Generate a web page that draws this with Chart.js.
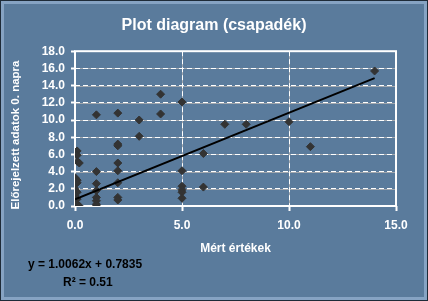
<!DOCTYPE html>
<html>
<head>
<meta charset="utf-8">
<script src="https://cdn.jsdelivr.net/npm/chart.js@4.4.1/dist/chart.umd.min.js"></script>
<style>
  html, body { margin: 0; padding: 0; background: #5A7B9C; }
  #wrap { position: relative; width: 428px; height: 301px; }
  canvas { display: block; }
</style>
</head>
<body>
<div id="wrap"><canvas id="c" width="428" height="301"></canvas></div>
<script>
// ---- data ----
const chartTitle = "Plot diagram (csapadék)";
const xTitle = "Mért értékek";
const yTitle = "Előrejelzett adatok 0. napra";
const measured = [
  0.1, 0.1, 0.1, 0.2, 0, 0.1, 0.1, 0, 0.1, 0, 0.1, 0, 0.1, 0, 0.1, 0.2,
  1, 1, 1, 1, 1, 1, 1, 1,
  2, 2, 2, 2, 2, 2, 2, 2,
  3, 3,
  4, 4,
  5, 5, 5, 5, 5, 5,
  6, 6,
  7, 8, 10, 11, 14
];
const forecast = [
  6.4, 5.9, 5.2, 5.0, 3.3, 3.0, 2.7, 2.0, 1.6, 1.2, 0.8, 0.4, 0.2, 0, 0, 0,
  10.6, 4.0, 2.6, 1.8, 1.0, 0.6, 0.2, 0,
  10.8, 7.2, 7.0, 5.0, 4.1, 2.7, 1.0, 0.7,
  10.0, 8.1,
  13.0, 10.7,
  12.1, 4.1, 2.3, 1.9, 1.6, 0.9,
  6.1, 2.2,
  9.5, 9.5, 9.8, 6.9, 15.7
];
const trendSlope = 1.0062;
const trendIntercept = 0.7835;
const trendRange = [0, 14];
const equationText = "y = 1.0062x + 0.7835";
const r2Text = "R² = 0.51";
const xTicks = [0, 5, 10, 15];
const yTicks = [0, 2, 4, 6, 8, 10, 12, 14, 16, 18];

const points = measured.map((x, i) => ({ x: x, y: forecast[i] }));
const trend = trendRange.map(x => ({ x: x, y: trendSlope * x + trendIntercept }));

const FONT = "'Liberation Sans', Arial, sans-serif";

const framePlugin = {
  id: 'frame',
  beforeDraw(chart) {
    const { ctx, chartArea: a, scales } = chart;
    const W = chart.width, H = chart.height;
    ctx.save();
    ctx.fillStyle = '#5A7B9C';
    ctx.fillRect(0, 0, W, H);
    ctx.strokeStyle = '#86A3C3';
    ctx.lineWidth = 3;
    ctx.strokeRect(2.5, 2.5, W - 5, H - 5);
    ctx.strokeStyle = '#1E2B38';
    ctx.lineWidth = 1;
    ctx.strokeRect(0.5, 0.5, W - 1, H - 1);
    // gray underlay beneath the dashed gridlines
    ctx.strokeStyle = '#A3A8AE';
    ctx.lineWidth = 1;
    yTicks.forEach(v => {
      const y = Math.round(scales.y.getPixelForValue(v)) + 0.5;
      ctx.beginPath(); ctx.moveTo(a.left, y); ctx.lineTo(a.right, y); ctx.stroke();
    });
    xTicks.forEach(v => {
      const x = Math.round(scales.x.getPixelForValue(v)) + 0.5;
      ctx.beginPath(); ctx.moveTo(x, a.top); ctx.lineTo(x, a.bottom); ctx.stroke();
    });
    ctx.restore();
  },
  beforeDatasetsDraw(chart) {
    const { ctx, chartArea: a } = chart;
    ctx.save();
    ctx.strokeStyle = '#FFFFFF';
    ctx.lineWidth = 2;
    ctx.strokeRect(a.left, a.top, a.right - a.left, a.bottom - a.top);
    ctx.restore();
  },
  afterDraw(chart) {
    const { ctx } = chart;
    ctx.save();
    ctx.fillStyle = '#FFFFFF';
    ctx.font = "bold 11.5px " + FONT;
    ctx.textAlign = 'center';
    ctx.textBaseline = 'middle';
    ctx.translate(16, 135);
    ctx.rotate(-Math.PI / 2);
    ctx.fillText(yTitle, 0, 0);
    ctx.restore();
    ctx.save();
    ctx.fillStyle = '#000000';
    ctx.font = "bold 12px " + FONT;
    ctx.textBaseline = 'middle';
    ctx.textAlign = 'left';
    ctx.fillText(equationText, 28, 265);
    ctx.fillText(r2Text, 63, 283);
    ctx.restore();
  }
};

new Chart(document.getElementById('c'), {
  type: 'scatter',
  data: {
    datasets: [
      {
        label: 'data',
        data: points,
        pointStyle: 'rectRot',
        pointRadius: 4,
        pointBackgroundColor: '#333333',
        pointBorderColor: '#333333',
        pointBorderWidth: 1,
        showLine: false,
        order: 2
      },
      {
        label: 'trend',
        data: trend,
        showLine: true,
        borderColor: '#000000',
        borderWidth: 2,
        pointRadius: 0,
        fill: false,
        order: 1
      }
    ]
  },
  options: {
    responsive: false,
    animation: false,
    devicePixelRatio: 1,
    layout: { padding: { left: 0, right: 0, top: 0, bottom: 0 } },
    plugins: {
      legend: { display: false },
      tooltip: { enabled: false },
      title: {
        display: true,
        text: chartTitle,
        color: '#FFFFFF',
        font: { family: FONT, size: 16, weight: 'bold', lineHeight: 1.2 },
        padding: { top: 16, bottom: 16 }
      }
    },
    scales: {
      x: {
        type: 'linear',
        min: 0, max: 15,
        afterFit(s) { s.height = 95; },
        afterBuildTicks(s) { s.ticks = xTicks.map(v => ({ value: v })); },
        ticks: {
          color: '#FFFFFF',
          padding: 7,
          autoSkip: false,
          maxRotation: 0,
          font: { family: FONT, size: 12, weight: 'bold' },
          callback: v => Number(v).toFixed(1)
        },
        grid: {
          color: '#FFFFFF',
          lineWidth: 1,
          drawTicks: true,
          tickLength: 5,
          tickColor: '#FFFFFF',
          tickWidth: 2
        },
        border: { display: false, dash: [5, 3] },
        title: {
          display: true,
          text: xTitle,
          color: '#FFFFFF',
          font: { family: FONT, size: 12, weight: 'bold', lineHeight: 1.2 },
          padding: { top: 0, bottom: 45 }
        }
      },
      y: {
        type: 'linear',
        min: 0, max: 18,
        afterFit(s) { s.width = 75; },
        afterBuildTicks(s) { s.ticks = yTicks.map(v => ({ value: v })); },
        ticks: {
          color: '#FFFFFF',
          padding: 6,
          autoSkip: false,
          font: { family: FONT, size: 12, weight: 'bold' },
          callback: v => Number(v).toFixed(1)
        },
        grid: {
          color: '#FFFFFF',
          lineWidth: 1,
          drawTicks: true,
          tickLength: 4,
          tickColor: '#FFFFFF',
          tickWidth: 2
        },
        border: { display: false, dash: [5, 3] },
        title: { display: false }
      },
      spacer: {
        type: 'linear',
        position: 'right',
        min: 0, max: 1,
        afterFit(s) { s.width = 32; },
        ticks: { display: false },
        grid: { display: false, drawTicks: false },
        border: { display: false },
        title: { display: false }
      }
    }
  },
  plugins: [framePlugin]
});
</script>
</body>
</html>
